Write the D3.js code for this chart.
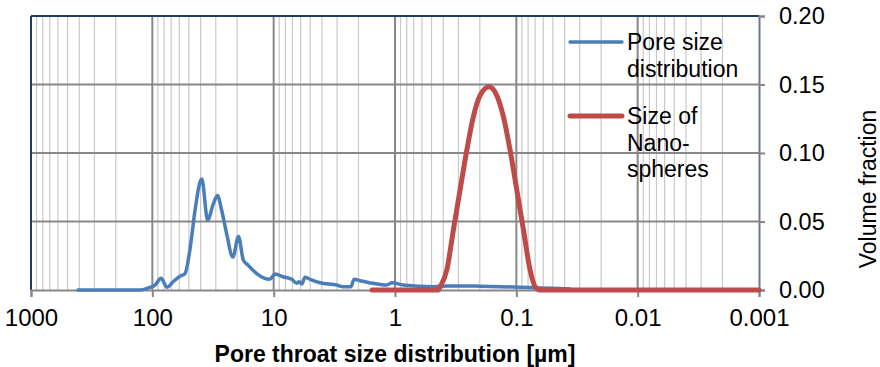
<!DOCTYPE html>
<html><head><meta charset="utf-8">
<script src="https://cdn.jsdelivr.net/npm/d3@7"></script>
<style>
body{margin:0;background:#fff}
svg{display:block}
text{font-family:Arial,"Liberation Sans",sans-serif;fill:#000}
</style>
</head><body>
<svg id="chart" width="880" height="367"></svg>
<script>
// Pore throat size distribution (µm) and volume fraction
const poreSize = [410,126,108,95,84.8,75.6,67.5,59.1,53.8,48.9,44.5,40.4,39.1,35.0,31.4,29.1,26.8,24.4,21.7,19.5,17.8,16.2,13.8,10.8,9.74,8.37,7.09,6.45,6.17,5.87,5.51,5.01,4.14,3.02,2.68,2.31,2.17,1.94,1.52,1.17,1.06,0.857,0.485,0.374,0.291,0.199,0.106,0.0637,0.036];
const poreFraction = [0,0,0.0015,0.0036,0.0085,0.002,0.006,0.010,0.012,0.030,0.058,0.079,0.081,0.051,0.063,0.069,0.058,0.041,0.024,0.039,0.022,0.018,0.012,0.0078,0.0117,0.0097,0.0078,0.0049,0.006,0.0044,0.0093,0.0078,0.0053,0.0036,0.0024,0.0024,0.0078,0.0068,0.0049,0.0036,0.0053,0.0036,0.0024,0.003,0.003,0.0028,0.0022,0.0015,0.0008];

// Nanosphere size (µm) and volume fraction
const sphereSize = [1.545,0.441,0.425,0.374,0.330,0.291,0.256,0.226,0.199,0.1676,0.1448,0.1278,0.1125,0.0991,0.0874,0.0770,0.0700,0.0637,0.001];
const sphereFraction = [0,0,0.0024,0.0146,0.044,0.073,0.102,0.1265,0.142,0.1484,0.142,0.1265,0.102,0.073,0.044,0.0146,0.0024,0,0];

const xTicks = [1000,100,10,1,0.1,0.01,0.001];
const xTickLabels = ["1000","100","10","1","0.1","0.01","0.001"];
const yTicks = [0,0.05,0.10,0.15,0.20];
const yTickLabels = ["0.00","0.05","0.10","0.15","0.20"];
const seriesNames = [["Pore size","distribution"],["Size of","Nano-","spheres"]];
const seriesColors = ["#4A7EBB","#BE4B48"];
const xTitle = "Pore throat size distribution [µm]";
const yTitle = "Volume fraction";

const svg = d3.select("#chart");
const plotLeft = 31, plotRight = 759, plotTop = 16, plotBottom = 290;

const x = d3.scaleLog().domain([1000,0.001]).range([plotLeft,plotRight]);
const y = d3.scaleLinear().domain([0,0.20]).range([plotBottom,plotTop]);

// minor vertical gridlines
const minor = [];
for (let e = -3; e < 3; e++) for (let k = 2; k <= 9; k++) minor.push(k*Math.pow(10,e));
svg.append("g").selectAll("line").data(minor).join("line")
  .attr("x1",d=>x(d)).attr("x2",d=>x(d)).attr("y1",plotTop).attr("y2",plotBottom)
  .attr("stroke","#c9c9c9").attr("stroke-width",1.2);

// major vertical gridlines
svg.append("g").selectAll("line").data(xTicks.slice(1,-1)).join("line")
  .attr("x1",d=>x(d)).attr("x2",d=>x(d)).attr("y1",plotTop).attr("y2",plotBottom)
  .attr("stroke","#878787").attr("stroke-width",2);

// horizontal gridlines
svg.append("g").selectAll("line").data(yTicks.slice(1,-1)).join("line")
  .attr("x1",plotLeft).attr("x2",plotRight).attr("y1",d=>y(d)).attr("y2",d=>y(d))
  .attr("stroke","#878787").attr("stroke-width",2);

// plot border: top and left
svg.append("line").attr("x1",plotLeft).attr("x2",plotRight).attr("y1",plotTop).attr("y2",plotTop)
  .attr("stroke","#1f3a6e").attr("stroke-width",2);
svg.append("line").attr("x1",plotLeft).attr("x2",plotLeft).attr("y1",plotTop).attr("y2",plotBottom)
  .attr("stroke","#1f3a6e").attr("stroke-width",2);

// bottom axis
const xAxis = d3.axisBottom(x).tickValues(xTicks).tickFormat((d,i)=>xTickLabels[i]).tickSize(7).tickPadding(12);
const gx = svg.append("g").attr("transform",`translate(0,${plotBottom})`).call(xAxis);
gx.select(".domain").attr("stroke","#878787").attr("stroke-width",2);
gx.selectAll(".tick line").attr("stroke","#878787").attr("stroke-width",2);
gx.selectAll(".tick text").attr("font-size",24).attr("font-family","Arial, Liberation Sans, sans-serif").attr("fill","#000");

// right axis
const yAxis = d3.axisRight(y).tickValues(yTicks).tickFormat((d,i)=>yTickLabels[i]).tickSize(6).tickPadding(14);
const gy = svg.append("g").attr("transform",`translate(${plotRight},0)`).call(yAxis);
gy.select(".domain").attr("stroke","#6e7891").attr("stroke-width",2);
gy.selectAll(".tick line").attr("stroke","#878787").attr("stroke-width",2);
gy.selectAll(".tick text").attr("font-size",23.5).attr("font-family","Arial, Liberation Sans, sans-serif").attr("fill","#000");

// series
const line = d3.line().x(d=>x(d[0])).y(d=>y(d[1])).curve(d3.curveMonotoneX);
const pore = poreSize.map((s,i)=>[s,poreFraction[i]]);
const sphere = sphereSize.map((s,i)=>[s,sphereFraction[i]]);
svg.append("path").datum(pore).attr("d",line).attr("fill","none")
  .attr("stroke",seriesColors[0]).attr("stroke-width",3.5).attr("stroke-linejoin","round").attr("stroke-linecap","round");
svg.append("path").datum(sphere).attr("d",line).attr("fill","none")
  .attr("stroke",seriesColors[1]).attr("stroke-width",5).attr("stroke-linejoin","round").attr("stroke-linecap","round");

// legend
const legend = svg.append("g");
const legendY = [42,116];
seriesNames.forEach((lines,i)=>{
  legend.append("line").attr("x1",570).attr("x2",622).attr("y1",legendY[i]).attr("y2",legendY[i])
    .attr("stroke",seriesColors[i]).attr("stroke-width",i===0?3.5:5).attr("stroke-linecap","round");
  const t = legend.append("text").attr("x",627).attr("y",legendY[i]+8).attr("font-size",23);
  lines.forEach((s,j)=>t.append("tspan").attr("x",627).attr("dy",j===0?0:26.5).text(s));
});

// axis titles
svg.append("text").attr("x",(plotLeft+plotRight)/2).attr("y",362).attr("text-anchor","middle")
  .attr("font-size",23).attr("font-weight","bold").text(xTitle);
svg.append("text").attr("transform","translate(876,189) rotate(-90)").attr("text-anchor","middle")
  .attr("font-size",23).text(yTitle);
</script>
</body></html>
